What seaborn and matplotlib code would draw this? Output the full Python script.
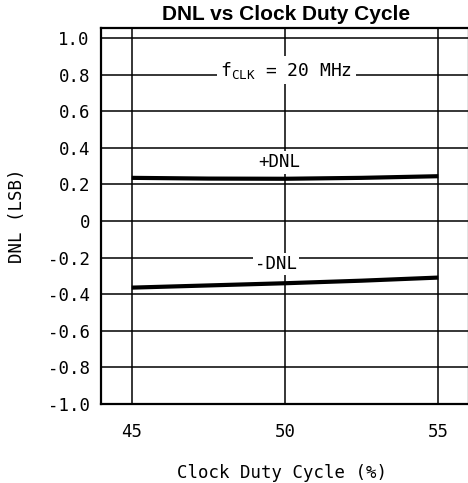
import numpy as np
import pandas as pd
import seaborn as sns
import matplotlib
matplotlib.use("Agg")
from matplotlib import pyplot as plt

# values
duty_cycle = [45, 47.5, 50, 52.5, 55]
dnl_pos = [0.236, 0.232, 0.231, 0.236, 0.245]
dnl_neg = [-0.364, -0.352, -0.340, -0.326, -0.309]

y_ticks = [-1.0, -0.8, -0.6, -0.4, -0.2, 0.0, 0.2, 0.4, 0.6, 0.8, 1.0]
y_tick_labels = ["-1.0", "-0.8", "-0.6", "-0.4", "-0.2", "0",
                 "0.2", "0.4", "0.6", "0.8", "1.0"]
x_ticks = [45, 50, 55]
x_tick_labels = ["45", "50", "55"]

sns.set_theme(style="white")
plt.rcParams['font.family'] = ['DejaVu Sans Mono', 'DejaVu Sans']
plt.rcParams['mathtext.default'] = 'regular'
plt.rcParams['text.color'] = 'black'
plt.rcParams['axes.labelcolor'] = 'black'

fig = plt.figure(figsize=(4.68, 4.83), dpi=100)
# axes box in pixels: left 101, right ~469, top 28, bottom 404
ax = fig.add_axes([101 / 468, 79 / 483, 368 / 468, 376 / 483])

data = pd.DataFrame({
    "Duty": duty_cycle * 2,
    "DNL": dnl_pos + dnl_neg,
    "Series": ["+DNL"] * len(duty_cycle) + ["-DNL"] * len(duty_cycle),
})

# grid lines
for x in x_ticks:
    ax.axvline(x, color="black", lw=1.1, zorder=1)
for y in y_ticks:
    ax.axhline(y, color="black", lw=1.1, zorder=1)

sns.lineplot(data=data, x="Duty", y="DNL", units="Series", estimator=None,
             color="black", lw=3, ax=ax, zorder=3, legend=False)
for line in ax.lines:
    line.set_solid_capstyle("butt")

ax.set_xlim(44, 56)
ax.set_ylim(-1.0, 1.055)
ax.set_xticks(x_ticks)
ax.set_xticklabels(x_tick_labels)
ax.set_yticks(y_ticks)
ax.set_yticklabels(y_tick_labels)
ax.tick_params(axis="both", length=0, labelsize=12.5, colors="black")
ax.tick_params(axis="y", pad=8)
ax.tick_params(axis="x", pad=14)

for s in ax.spines.values():
    s.set_color("black")
    s.set_linewidth(1.6)

ax.set_xlabel("Clock Duty Cycle (%)", fontsize=12.5)
ax.set_ylabel("DNL (LSB)", fontsize=12.5)
ax.xaxis.set_label_coords(0.5 - 3 / 368, -0.160)
ax.yaxis.set_label_coords(-0.204, 0.5)

box = dict(facecolor="white", edgecolor="none", pad=1.5)
ax.text(50.05, 0.825, r"f$_{CLK}$ = 20 MHz", ha="center", va="center",
        fontsize=13, bbox=dict(facecolor="white", edgecolor="none", pad=2.5), zorder=4)
ax.text(49.8, 0.32, "+DNL", ha="center", va="center", fontsize=12.5,
        bbox=box, zorder=4)
ax.text(49.7, -0.235, "-DNL", ha="center", va="center", fontsize=12.5,
        bbox=box, zorder=4)

fig.text(286 / 468, 1 - 15 / 483, "DNL vs Clock Duty Cycle", ha="center",
         va="center", fontsize=15, fontweight="bold", color="black",
         family=["Liberation Sans", "DejaVu Sans"])

fig.savefig("out.png", dpi=100)
